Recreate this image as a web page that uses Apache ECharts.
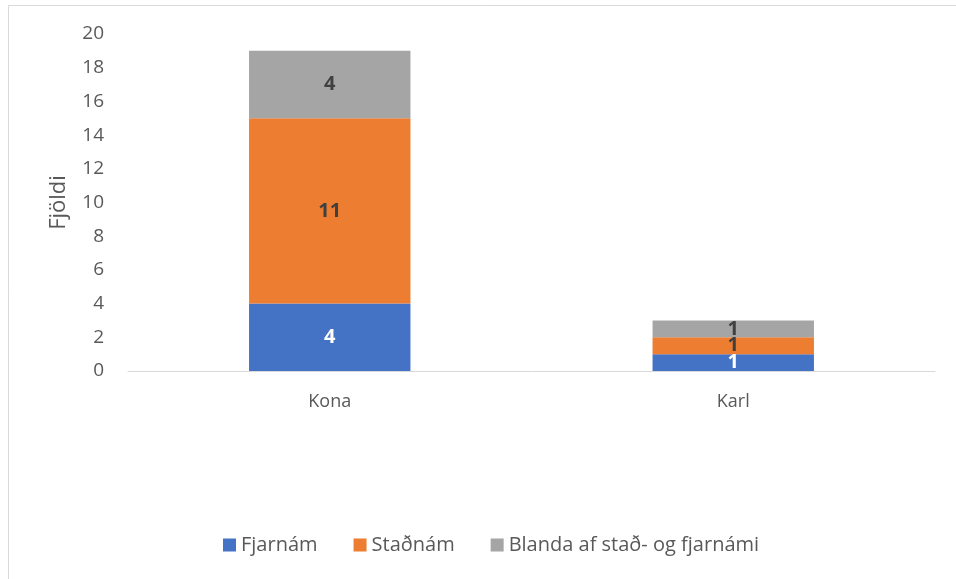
<!DOCTYPE html>
<html><head><meta charset="utf-8">
<script src="https://cdn.jsdelivr.net/npm/echarts@6/dist/echarts.min.js"></script>
<style>html,body{margin:0;padding:0;background:#fff}#c{width:956px;height:579px}</style>
</head><body><div id="c"></div>
<script>
const categories = ['Kona', 'Karl'];
const fjarnam = [4, 1];
const stadnam = [11, 1];
const blanda = [4, 1];
const seriesNames = ['Fjarnám', 'Staðnám', 'Blanda af stað- og fjarnámi'];
const yTicks = {min: 0, max: 20, interval: 2};

const chart = echarts.init(document.getElementById('c'));
const font = '"Open Sans", "Noto Sans", sans-serif';
const mk = (name, data, color, labelColor) => ({
  name, type: 'bar', stack: 'a', data, barWidth: '40%',
  itemStyle: {color},
  label: {show: true, position: 'inside', color: labelColor, fontWeight: 'bold', fontSize: 20, fontFamily: font},
  emphasis: {disabled: true}
});
chart.setOption({
  animation: false,
  graphic: [{type: 'rect', shape: {x: 8.5, y: 5.5, width: 1000, height: 1000}, style: {fill: 'none', stroke: '#d9d9d9', lineWidth: 1}, silent: true}],
  grid: {left: 128, right: 21, top: 34, bottom: 208},
  legend: {top: 530, left: 218, itemWidth: 13, itemHeight: 13, itemGap: 36, icon: 'rect',
    textStyle: {fontSize: 20, color: '#595959', fontFamily: font}},
  xAxis: {type: 'category', data: categories,
    axisLine: {lineStyle: {color: '#d9d9d9'}}, axisTick: {show: false},
    axisLabel: {fontSize: 18, color: '#595959', fontFamily: font, margin: 22}},
  yAxis: {type: 'value', min: yTicks.min, max: yTicks.max, interval: yTicks.interval,
    name: 'Fjöldi', nameLocation: 'middle', nameGap: 58, nameRotate: 90,
    nameTextStyle: {fontSize: 22, color: '#595959', fontFamily: font},
    axisLine: {show: false}, axisTick: {show: false}, splitLine: {show: false},
    axisLabel: {fontSize: 19, color: '#595959', fontFamily: font, margin: 24}},
  series: [
    mk(seriesNames[0], fjarnam, '#4472C4', '#ffffff'),
    mk(seriesNames[1], stadnam, '#ED7D31', '#404040'),
    mk(seriesNames[2], blanda, '#A5A5A5', '#404040')
  ]
});
</script></body></html>
